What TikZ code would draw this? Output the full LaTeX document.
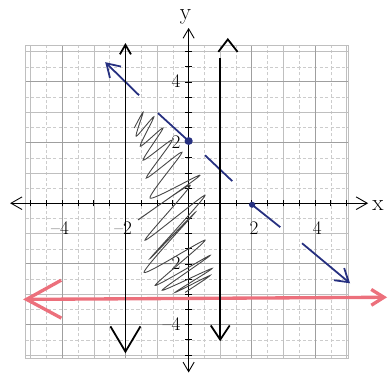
\documentclass[tikz,border=0pt]{standalone}
\definecolor{penblue}{RGB}{38,48,128}
\definecolor{penred}{RGB}{236,112,124}
\definecolor{pencilgray}{RGB}{70,70,70}
\usepackage{tikz}
\usetikzlibrary{arrows.meta,calc}

\begin{document}
\begin{tikzpicture}[x=1cm,y=0.96cm,
    gridmajor/.style={gray!75,line width=0.8pt},
    gridminor/.style={gray!50,line width=0.5pt},
    gridhalf/.style={gray!40,line width=0.4pt,dash pattern=on 3pt off 2pt},
    penline/.style={black,line width=1.6pt},
    blueline/.style={penblue,line width=1.6pt},
    ticklabel/.style={font=\LARGE,inner sep=1pt}]
    \useasboundingbox (-5.97,-5.61) rectangle (6.31,6.70);
    % grid paper
    \foreach \t in {-4.5,-3.5,...,4.5} {
        \draw[gridhalf] (\t,-5.12) -- (\t,5.21);
        \draw[gridhalf] (-5.17,\t) -- (5.05,\t);
    }
    \foreach \t in {-5,-3,...,5} {
        \draw[gridminor] (\t,-5.12) -- (\t,5.21);
        \draw[gridminor] (-5.17,\t) -- (5.05,\t);
    }
    \foreach \t in {-4,-2,2,4} {
        \draw[gridmajor] (\t,-5.12) -- (\t,5.21);
        \draw[gridmajor] (-5.17,\t) -- (5.05,\t);
    }
    \draw[gridminor] (-5.17,-5.12) rectangle (5.05,5.21);
    % axes
    \draw[line width=0.8pt,{Straight Barb[length=3.5mm,width=4mm]}-{Straight Barb[length=3.5mm,width=4mm]}]
        (-5.65,0) -- (5.68,0);
    \draw[line width=0.8pt,{Straight Barb[length=3mm,width=3.5mm]}-{Straight Barb[length=3mm,width=3.5mm]}]
        (0,-5.58) -- (0,5.78);
    \foreach \t in {-5,-4.5,...,5} {
        \draw[line width=0.7pt] (\t,-0.1) -- (\t,0.1);
        \draw[line width=0.7pt] (-0.1,\t) -- (0.1,\t);
    }
    \node[font=\huge] (xlab) at (5.99,-0.07) {x};
    \node[font=\huge] (ylab) at (-0.1,6.15) {y};
    \foreach \v/\n in {-4/xm4,-2/xm2,2/xp2,4/xp4} {
        \pgfmathtruncatemacro{\w}{\v}
        \node[ticklabel,anchor=east] (\n) at (\v+0.25,-0.83) {\ifnum\w<0 \textendash\the\numexpr-\w\relax\else\w\fi};
    }
    \foreach \v/\n in {4/yp4,2/yp2,-2/ym2,-4/ym4} {
        \pgfmathtruncatemacro{\w}{\v}
        \node[ticklabel,anchor=east] (\n) at (-0.22,\v+0.02) {\ifnum\w<0 \textendash\the\numexpr-\w\relax\else\w\fi};
    }
    % red line
    \draw[penred,line width=3pt,{Straight Barb[length=11mm,width=12mm]}-{Straight Barb[length=4mm,width=5mm]}]
        (-5.24,-3.17) -- (6.28,-3.1);
    % shading scribble
    \draw[pencilgray,line width=0.8pt] plot[smooth,tension=0.45] coordinates {
        (-1.72,2.48) (-1.44,3.00) (-1.66,2.21) (-1.10,2.85) (-1.53,1.88)
        (-0.81,2.48) (-1.44,1.42) (-0.52,2.08) (-1.34,0.83) (-0.21,1.68)
        (-1.22,0.17) (0.36,0.92) (-1.60,-0.55) (0.05,0.59) (-1.38,-1.22)
        (0.52,0.26) (-1.22,-1.82) (0.21,-0.30) (-1.41,-2.28) (0.52,-1.22)
        (-1.06,-2.71) (0.68,-1.72) (-0.84,-2.87) (0.74,-2.15) (-0.43,-2.94)
        (0.68,-2.38) (-0.11,-2.94)};
    % blue dashed line
    \draw[blueline,{Straight Barb[length=4mm,width=5mm]}-] (-2.64,4.65) -- (-1.57,3.56);
    \draw[blueline] (-0.97,2.97) -- (0,2.05);
    \draw[blueline] (0.52,1.58) -- (1.38,0.73);
    \draw[blueline] (2.01,-0.05) -- (2.9,-0.79);
    \draw[blueline,-{Straight Barb[length=4mm,width=5mm]}] (3.59,-1.32) -- (5.11,-2.64);
    \fill[penblue] (0,2.05) circle (0.13);
    \fill[penblue] (2.01,-0.05) circle (0.1);
    % vertical lines
    \draw[penline,{Straight Barb[length=3mm,width=3.5mm]}-{Straight Barb[length=8mm,width=9.5mm]}]
        (-2,5.28) -- (-2,-4.95);
    \draw[penline,-{Straight Barb[length=4.5mm,width=6mm]}] (1,4.79) -- (1,-4.55);
    \draw[penline] (0.94,4.99) -- (1.24,5.40) -- (1.55,4.99);
\end{tikzpicture}
\end{document}
